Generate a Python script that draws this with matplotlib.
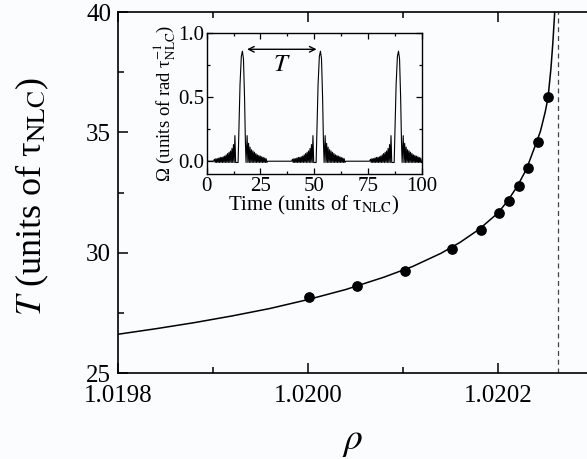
import numpy as np
import matplotlib
matplotlib.use('Agg')
import matplotlib.pyplot as plt
from matplotlib.ticker import MultipleLocator, FormatStrFormatter

plt.rcParams['font.family'] = ['Liberation Serif', 'DejaVu Serif']
plt.rcParams['mathtext.fontset'] = 'stix'

# main panel: measured periods
rho_pts = [1.020001, 1.020052, 1.020102, 1.020152, 1.020182, 1.020201,
           1.020212, 1.020222, 1.020232, 1.020242, 1.020253]
T_pts = [28.17, 28.63, 29.24, 30.14, 30.94, 31.66,
         32.15, 32.77, 33.51, 34.59, 36.46]

# fitted curve
rho_fit = [1.01980, 1.01984, 1.01988, 1.01992, 1.01996, 1.02000, 1.02004,
           1.02008, 1.02011, 1.02014, 1.02016, 1.02018, 1.02020, 1.02021,
           1.02022, 1.02023, 1.02024, 1.020245, 1.02025, 1.020253,
           1.020256, 1.020258, 1.020260]
T_fit = [26.61, 26.84, 27.09, 27.37, 27.68, 28.05, 28.47,
         28.98, 29.42, 29.97, 30.42, 30.96, 31.64, 32.13,
         32.72, 33.45, 34.50, 35.05, 35.85, 36.45,
         37.65, 38.70, 40.00]

rho_crit = 1.020263

# inset: one pulse of Omega(t), vertices relative to the peak time
peak_times = [16.6, 52.9, 89.2]
pre_peaks = [0.015, 0.02, 0.02, 0.025, 0.03, 0.03, 0.035, 0.04,
             0.05, 0.06, 0.07, 0.08, 0.10, 0.13, 0.20]
main_dt = [-2.0, -1.6, -1.1, -0.5, 0.0, 0.5, 1.0, 1.4, 1.7]
main_val = [-0.01, 0.25, 0.60, 0.82, 0.86, 0.80, 0.50, 0.15, -0.01]
post_peaks = [0.20, 0.14, 0.11, 0.09, 0.08, 0.07, 0.06, 0.05,
              0.045, 0.04, 0.035, 0.03, 0.025, 0.02]
ripple_low = -0.01
ripple_step = 0.34
flat_level = 0.0


def pulse():
    # ripple on both sides: maxima separated by minima
    pre_dt = -13.0 + np.arange(2 * len(pre_peaks)) * ripple_step
    pre_val = []
    for p in pre_peaks:
        pre_val += [p, ripple_low]
    post_dt = 2.2 + np.arange(2 * len(post_peaks)) * ripple_step
    post_val = []
    for p in post_peaks:
        post_val += [p, ripple_low]
    dt = np.concatenate([[-13.4], pre_dt, main_dt, post_dt, [post_dt[-1] + 0.4]])
    val = np.concatenate([[flat_level], pre_val, main_val, post_val, [flat_level]])
    return dt, val


t_all = [np.array([0.0])]
v_all = [np.array([flat_level])]
for tp in peak_times:
    dt, val = pulse()
    t_all.append(dt + tp)
    v_all.append(val)
t_all = np.concatenate(t_all)
v_all = np.concatenate(v_all)
keep = (t_all >= 0) & (t_all <= 100)
t_all = t_all[keep]
v_all = v_all[keep]

bg = '#fafcfd'
fig = plt.figure(figsize=(5.87, 4.59), dpi=100, facecolor=bg)
ax = fig.add_axes([118 / 587, 86 / 459, 469 / 587, 361 / 459], facecolor=bg)

ax.plot(rho_fit, T_fit, color='black', lw=1.1, zorder=2)
ax.plot(rho_pts, T_pts, 'o', color='black', ms=6.7, zorder=3)
ax.axvline(rho_crit, color='#444444', lw=0.9, ls=(0, (4, 3)), zorder=1)

ax.set_xlim(1.0198, 1.020294)
ax.set_ylim(25, 40)
ax.xaxis.set_major_locator(MultipleLocator(0.0002))
ax.xaxis.set_minor_locator(MultipleLocator(0.0001))
ax.xaxis.set_major_formatter(FormatStrFormatter('%.4f'))
ax.yaxis.set_major_locator(MultipleLocator(5))
ax.yaxis.set_minor_locator(MultipleLocator(2.5))
ax.tick_params(which='both', direction='in', top=True, right=False,
               labelsize=18, width=1.1)
ax.tick_params(axis='x', pad=9)
ax.tick_params(axis='y', pad=5)
ax.tick_params(which='major', length=7)
ax.tick_params(which='minor', length=4)
ax.spines['right'].set_visible(False)
for s in ['left', 'bottom', 'top']:
    ax.spines[s].set_linewidth(1.2)
ax.set_xlabel(r'$\rho$', fontsize=27, labelpad=12)
ax.set_ylabel('$T$ (units of τ$_{\\rm NLC}$)', fontsize=26)
ax.yaxis.set_label_coords(-0.142, 0.49)

# inset
ins = fig.add_axes([206.7 / 587, 285 / 459, 215 / 587, 140.7 / 459], facecolor=bg)
ins.plot(t_all, v_all, color='black', lw=0.8)
ins.set_xlim(0, 100)
ins.set_ylim(-0.1, 1.0)
ins.xaxis.set_major_locator(MultipleLocator(25))
ins.xaxis.set_minor_locator(MultipleLocator(12.5))
ins.yaxis.set_major_locator(MultipleLocator(0.5))
ins.yaxis.set_minor_locator(MultipleLocator(0.25))
ins.yaxis.set_major_formatter(FormatStrFormatter('%.1f'))
ins.tick_params(which='both', direction='in', top=True, right=True,
                labelsize=15, width=0.9, pad=2)
ins.tick_params(which='major', length=4)
ins.tick_params(which='minor', length=2.5)
for s in ins.spines.values():
    s.set_linewidth(1.0)
ins.set_xlabel('Time (units of τ$_{\\rm NLC}$)', fontsize=15, labelpad=-1)
ins.set_ylabel('Ω (units of rad τ$_{\\rm NLC}^{-1}$)', fontsize=13.5, labelpad=0)
ins.annotate('', xy=(17.5, 0.875), xytext=(52.4, 0.875),
             arrowprops=dict(arrowstyle='<->', color='black', lw=1.0))
ins.text(34.9, 0.75, r'$T$', fontsize=18, ha='center', va='center')

fig.savefig('out.png', dpi=100, facecolor=bg)
